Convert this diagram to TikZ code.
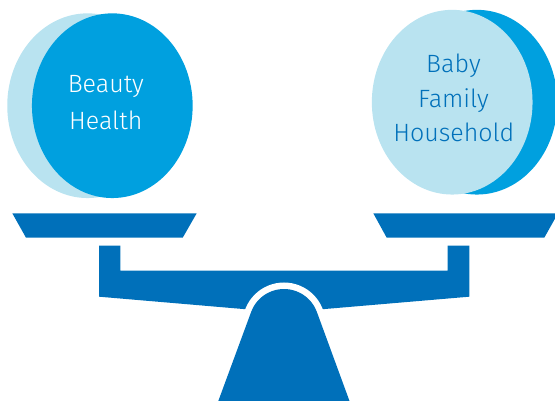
\documentclass[tikz,border=0pt]{standalone}
\usepackage{fontspec}
\setmainfont{Fira Sans Light}
\usetikzlibrary{shapes.geometric,calc}

\definecolor{scaleblue}{HTML}{0070BA}
\definecolor{midblue}{HTML}{00A0DF}
\definecolor{paleblue}{HTML}{B9E3F0}

\tikzset{
  disc/.style={ellipse, inner sep=0pt, minimum width=160.7pt, minimum height=184.7pt},
  lbl/.style={anchor=base, inner sep=0pt, font=\fontsize{25}{30}\selectfont},
  part/.style={fill=scaleblue}
}

\begin{document}
\begin{tikzpicture}[x=1pt, y=-1pt]
  \clip (0,0) rectangle (555,401);

  % left weight: pale crescent behind a blue disc
  \node[disc, fill=paleblue] (backL) at (87.6,105.7) {};
  \node[disc, fill=midblue] (frontL) at (112.3,105.7) {};
  \node[lbl, text=white] (beauty) at (105.8,92.7) {Beauty};
  \node[lbl, text=white] (health) at (105.8,129.3) {Health};

  % right weight: blue crescent behind a pale disc
  \node[disc, fill=midblue] (backR) at (476.9,102.2) {};
  \node[disc, fill=paleblue] (frontR) at (452.2,102.2) {};
  \node[lbl, text=scaleblue] (baby) at (453.5,72.7) {Baby};
  \node[lbl, text=scaleblue] (family) at (453.5,107.5) {Family};
  \node[lbl, text=scaleblue] (household) at (453.8,141.7) {Household};

  % pans
  \fill[part] (12.3,213.3) -- (196.7,213.3) -- (182.7,237.7) -- (26,237.7) -- cycle;
  \fill[part] (373.3,213.3) -- (558,213.3) -- (544.3,237.7) -- (386.7,237.7) -- cycle;

  % beam with its two posts
  \fill[part] (99,245.7) -- (120.3,245.7) -- (120.3,270.7) -- (447.7,270.7)
    -- (447.7,245.7) -- (469.3,245.7) -- (469.3,296.7) -- (284,312.5)
    -- (99,296.7) -- cycle;

  % gap around the pivot
  \fill[white] (284,324) circle[radius=41.5];

  % stand
  \coordinate (pivot) at (284,324);
  \fill[part] (218.3,401) -- ($(pivot)+(200.3:35)$)
    arc[start angle=200.3, end angle=339.7, radius=35]
    -- (349.5,401) -- cycle;
\end{tikzpicture}
\end{document}
